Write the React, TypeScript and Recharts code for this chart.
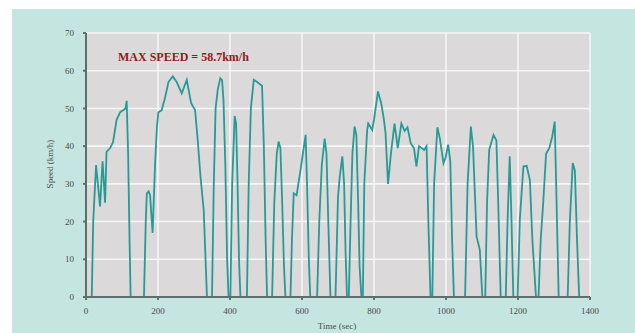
import React from "react";
import { LineChart, Line, XAxis, YAxis, CartesianGrid } from "recharts";

// time (sec) and speed (km/h)
const times = [
  0, 16, 20, 28, 33, 39, 46, 53, 57, 67, 75, 85, 95, 104, 110, 113, 117, 121, 124,
  161, 166, 169, 174, 178, 185, 188, 192, 197, 201, 210, 220, 229, 241, 252, 266, 280, 285, 292, 303, 310, 318, 327, 336,
  350, 355, 360, 366, 373, 378, 382, 387, 392, 396,
  401, 406, 413, 417, 421, 425, 429,
  447, 452, 458, 466, 475, 489, 494, 499, 503,
  517, 523, 530, 535, 540, 545, 550, 554,
  568, 572, 577, 585, 596, 601, 610, 614, 619, 623,
  642, 648, 655, 663, 668, 673, 679,
  693, 697, 700, 705, 712, 717, 721, 725,
  730, 735, 740, 746, 751, 756, 760, 765,
  769, 773, 781, 784, 795, 800, 811, 820, 827, 832, 839, 847, 857, 866, 876, 885, 893, 902, 911, 918, 925, 939, 946, 951, 957,
  962, 967, 976, 983, 993, 999, 1006, 1012, 1017, 1022,
  1053, 1060, 1069, 1075, 1085, 1094, 1101,
  1109, 1114, 1120, 1132, 1140, 1145, 1152,
  1166, 1171, 1177, 1182, 1187,
  1199, 1205, 1215, 1224, 1233, 1240, 1250,
  1257, 1263, 1270, 1278, 1287, 1295, 1302, 1306, 1313,
  1338, 1344, 1352, 1358, 1364, 1370, 1390,
];
const speeds = [
  0, 0, 20, 35, 30, 24, 36, 25, 38.5, 39.5, 41, 47, 49, 49.6, 50, 52, 38, 15, 0,
  0, 20, 27.5, 28, 27, 17, 25, 35.5, 45, 49, 49.5, 53, 57, 58.5, 57, 54, 57.6, 55, 51.4, 49.6, 42, 32, 23, 0,
  0, 30, 50, 55, 58, 57.5, 52, 35, 10, 0,
  0, 30, 48, 46, 30, 10, 0,
  0, 30, 50, 57.6, 57, 56, 40, 15, 0,
  0, 25, 38, 41.2, 39.5, 25, 8, 0,
  0, 15, 27.5, 27, 33.7, 37, 43, 30, 10, 0,
  0, 20, 35, 42, 38, 20, 0,
  0, 15, 26.6, 32, 37.3, 30, 12, 0,
  0, 20, 38, 45.2, 43, 25, 8, 0,
  0, 30, 44.3, 46, 44.3, 47, 54.5, 51.4, 47.4, 43.5, 30, 38, 46, 39.5, 46, 44, 45, 40.8, 39.5, 34.6, 40, 39, 40, 20, 0,
  0, 30, 45, 42, 35.5, 37, 40.4, 36, 15, 0,
  0, 30, 45.2, 40, 16, 12.5, 0,
  0, 25, 39, 43, 41.5, 25, 0,
  0, 20, 37.3, 20, 0,
  0, 20.4, 34.6, 34.8, 31, 15, 0,
  0, 15, 25, 38, 39.5, 42.5, 46.5, 30, 0,
  0, 20, 35.5, 33.5, 15, 0, 0,
];
const xTicks = [0, 200, 400, 600, 800, 1000, 1200, 1400];
const yTicks = [0, 10, 20, 30, 40, 50, 60, 70];

const data = times.map((t, i) => ({ t, v: speeds[i] }));

const font = "'Liberation Serif', 'Times New Roman', serif";
const tick = { fill: "#4a4a4a", fontSize: 9, fontFamily: font };

export default function App() {
  return (
    <div style={{ position: "absolute", left: 0, top: 0, width: 635, height: 333, background: "#fff" }}>
      <div style={{ position: "absolute", left: 12, top: 9, width: 623, height: 324, background: "#c5e6e0" }} />
      <div style={{ position: "absolute", left: 0, top: 0 }}>
        <LineChart width={635} height={333} data={data} margin={{ top: 33, right: 45, bottom: 16, left: 56 }}>
          <CartesianGrid stroke="#f6f6f6" strokeWidth={1.6} fill="#dbd9d9" />
          <XAxis
            dataKey="t"
            type="number"
            domain={[0, 1400]}
            ticks={xTicks}
            tick={tick}
            tickSize={3}
            tickMargin={8}
            height={20}
            stroke="#5f6e6b"
            strokeWidth={2}
          />
          <XAxis
            xAxisId="top"
            orientation="top"
            type="number"
            domain={[0, 1400]}
            tick={false}
            tickLine={false}
            height={0}
            stroke="#7fa8a0"
            strokeWidth={2}
          />
          <YAxis
            domain={[0, 70]}
            ticks={yTicks}
            tick={tick}
            tickSize={3}
            tickMargin={9}
            width={30}
            stroke="#5f6e6b"
            strokeWidth={2}
          />
          <YAxis
            yAxisId="right"
            orientation="right"
            domain={[0, 70]}
            tick={false}
            tickLine={false}
            width={0}
            stroke="#7fa8a0"
            strokeWidth={2}
          />
          <Line
            type="linear"
            dataKey="v"
            stroke="#279a96"
            strokeWidth={1.8}
            dot={false}
            isAnimationActive={false}
          />
        </LineChart>
      </div>
      <div
        style={{
          position: "absolute",
          left: 118,
          top: 50,
          fontFamily: font,
          fontWeight: "bold",
          fontSize: 12,
          color: "#8e1c1c",
          whiteSpace: "nowrap",
          lineHeight: "14px",
        }}
      >
        MAX SPEED = 58.7km/h
      </div>
      <div
        style={{
          position: "absolute",
          left: 50,
          top: 164,
          transform: "translate(-50%, -50%) rotate(-90deg)",
          fontFamily: font,
          fontSize: 9,
          color: "#4a4a4a",
          whiteSpace: "nowrap",
        }}
      >
        Speed (km/h)
      </div>
      <div
        style={{
          position: "absolute",
          left: 337,
          top: 326,
          transform: "translate(-50%, -50%)",
          fontFamily: font,
          fontSize: 9,
          color: "#4a4a4a",
          whiteSpace: "nowrap",
        }}
      >
        Time (sec)
      </div>
    </div>
  );
}
